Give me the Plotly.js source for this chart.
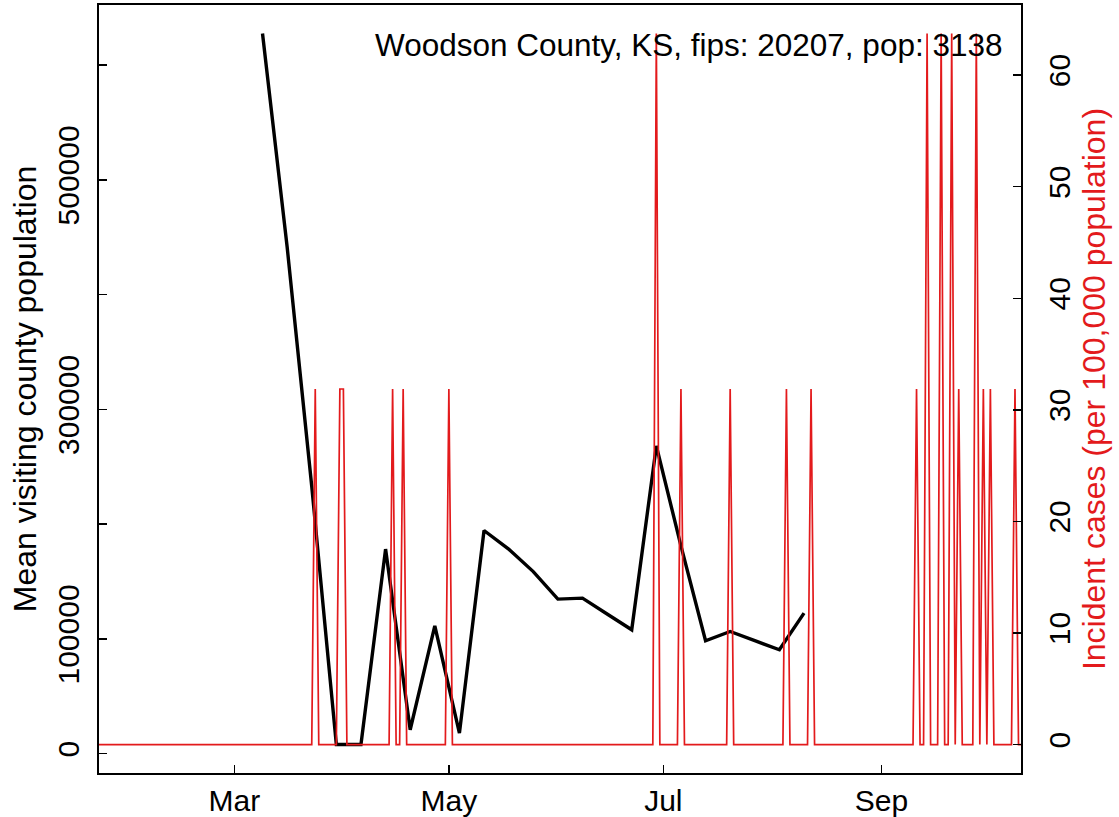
<!DOCTYPE html>
<html>
<head>
<meta charset="utf-8">
<script src="https://cdn.plot.ly/plotly-3.0.1.min.js"></script>
<style>html,body{margin:0;padding:0;background:#fff;}#chart{width:1119px;height:817px;}</style>
</head>
<body>
<div id="chart"></div>
<script>
// ---- data ----
const countyLabel = 'Woodson County, KS, fips: 20207, pop: 3138';
const population = 3138;

// weekly mean visiting county population (black line)
const visitDates = ['2020-03-09','2020-03-16','2020-03-23','2020-03-30','2020-04-06','2020-04-13','2020-04-20','2020-04-27',
  '2020-05-04','2020-05-11','2020-05-18','2020-05-25','2020-06-01','2020-06-08','2020-06-15','2020-06-22','2020-06-29',
  '2020-07-06','2020-07-13','2020-07-20','2020-07-27','2020-08-03','2020-08-10'];
const visitValues = [627600, 441800, 233100, 8000, 8000, 178300, 20900, 111500,
  18000, 194500, 178300, 158700, 134700, 135600, 121800, 108000, 268200,
  181100, 98400, 106500, 98500, 90600, 122500];

// days with reported cases (all other days: 0 cases)
const caseDates = ['2020-03-24','2020-03-31','2020-04-01','2020-04-15','2020-04-18','2020-05-01','2020-06-29','2020-07-06',
  '2020-07-20','2020-08-05','2020-08-12','2020-09-11','2020-09-14','2020-09-18','2020-09-21','2020-09-23','2020-09-28',
  '2020-09-30','2020-10-02','2020-10-09'];
const caseCounts = [1,1,1,1,1,1,2,1,1,1,1,1,2,2,2,1,2,1,1,1];
const seriesStart = '2020-01-22';
const seriesEnd = '2020-10-11';

// axis ticks
const monthTickVals = ['2020-03-01','2020-05-01','2020-07-01','2020-09-01'];
const monthTickText = ['Mar','May','Jul','Sep'];
const leftTickVals = [0,100000,200000,300000,400000,500000,600000];
const leftTickText = ['0','100000','','300000','','500000',''];
const rightTickVals = [0,10,20,30,40,50,60];
const rightTickText = ['0','10','20','30','40','50','60'];

// ---- build daily incidence series ----
const caseMap = {};
caseDates.forEach((d,i)=>{caseMap[d]=caseCounts[i];});
const dailyDates = [], dailyInc = [];
let t = new Date(seriesStart+'T00:00:00Z');
const tEnd = new Date(seriesEnd+'T00:00:00Z');
while (t <= tEnd) {
  const s = t.toISOString().slice(0,10);
  dailyDates.push(s);
  dailyInc.push((caseMap[s]||0)/population*100000);
  t = new Date(t.getTime()+86400000);
}

function padRange(arr){
  const mn=Math.min(...arr), mx=Math.max(...arr), p=0.04*(mx-mn);
  return [mn-p, mx+p];
}

const RED = '#e31a1c';
const FONT = 'Liberation Sans, Arial, Helvetica, sans-serif';
const TICK_SIZE = 30;
const TITLE_SIZE = 32;

const traces = [
  {x: visitDates, y: visitValues, type:'scatter', mode:'lines', yaxis:'y',
   line:{color:'#000', width:3.4}, hoverinfo:'skip'},
  {x: dailyDates, y: dailyInc, type:'scatter', mode:'lines', yaxis:'y2',
   line:{color:RED, width:1.7}, hoverinfo:'skip'}
];

const axisCommon = {
  showline:true, linecolor:'#000', linewidth:2, mirror:true,
  ticks:'inside', ticklen:8, tickwidth:1.5, tickcolor:'#000',
  showgrid:false, zeroline:false, tickfont:{size:TICK_SIZE, color:'#000', family:FONT}
};

const layout = {
  width:1119, height:817,
  margin:{l:99, r:98, t:5, b:44},
  paper_bgcolor:'#fff', plot_bgcolor:'#fff',
  showlegend:false,
  font:{family:FONT, color:'#000'},
  xaxis: Object.assign({}, axisCommon, {
    type:'date', range:['2020-01-22 12:00','2020-10-10 17:00'],
    tickmode:'array', tickvals:monthTickVals, ticktext:monthTickText,
    ticklabelstandoff:0
  }),
  yaxis: Object.assign({}, axisCommon, {
    range: padRange(visitValues),
    tickmode:'array', tickvals:leftTickVals, ticktext:leftTickText,
    tickangle:-90, ticklabelstandoff:6,
    title:{text:'Mean visiting county population', font:{size:TITLE_SIZE, color:'#000', family:FONT}, standoff:6}
  }),
  yaxis2: Object.assign({}, axisCommon, {
    overlaying:'y', side:'right', mirror:false,
    range: padRange(dailyInc),
    tickmode:'array', tickvals:rightTickVals, ticktext:rightTickText,
    tickangle:-90, ticklabelstandoff:11,
    title:{text:'Incident cases (per 100,000 population)', font:{size:TITLE_SIZE, color:RED, family:FONT}, standoff:8}
  }),
  annotations:[{
    text: countyLabel, xref:'paper', yref:'paper', x:(1005-99)/922, y:(773-45)/768,
    xanchor:'right', yanchor:'middle', showarrow:false,
    font:{size:31.5, color:'#000', family:FONT}
  }]
};

Plotly.newPlot('chart', traces, layout, {displayModeBar:false, staticPlot:true});
</script>
</body>
</html>
